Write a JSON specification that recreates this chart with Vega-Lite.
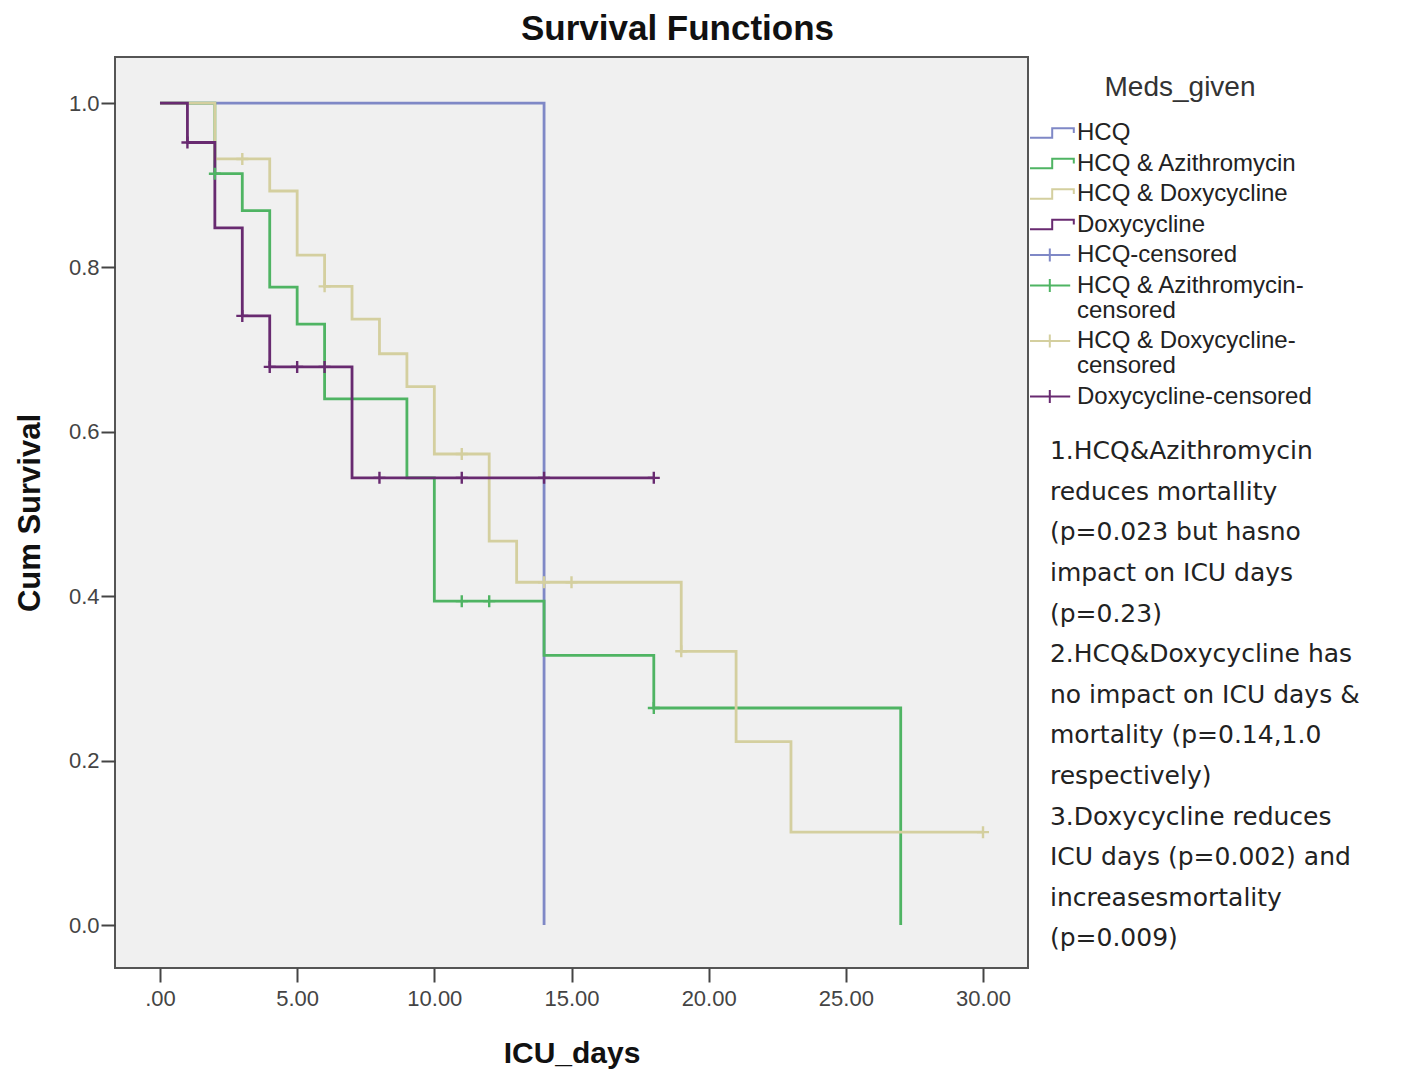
{
  "$schema": "https://vega.github.io/schema/vega-lite/v6.json",
  "width": 913,
  "height": 911,
  "autosize": {"type": "none"},
  "padding": {"left": 115, "top": 57, "right": 377, "bottom": 108},
  "background": "white",
  "config": {
    "view": {"fill": "#f0f0f0", "stroke": "#555555", "strokeWidth": 2},
    "font": "Liberation Sans"
  },
  "title": {
    "text": "Survival Functions",
    "fontSize": 35,
    "fontWeight": "bold",
    "font": "Liberation Sans",
    "color": "#111111",
    "anchor": "middle",
    "frame": "group",
    "dx": 106,
    "baseline": "alphabetic",
    "offset": -18
  },
  "datasets": {
    "km": [
      {"series": "HCQ", "kind": "step", "day": 0, "surv": 1.0},
      {"series": "HCQ", "kind": "step", "day": 14, "surv": 0.0},

      {"series": "HCQ & Azithromycin", "kind": "step", "day": 0, "surv": 1.0},
      {"series": "HCQ & Azithromycin", "kind": "step", "day": 2, "surv": 0.914},
      {"series": "HCQ & Azithromycin", "kind": "step", "day": 3, "surv": 0.869},
      {"series": "HCQ & Azithromycin", "kind": "step", "day": 4, "surv": 0.776},
      {"series": "HCQ & Azithromycin", "kind": "step", "day": 5, "surv": 0.731},
      {"series": "HCQ & Azithromycin", "kind": "step", "day": 6, "surv": 0.640},
      {"series": "HCQ & Azithromycin", "kind": "step", "day": 9, "surv": 0.544},
      {"series": "HCQ & Azithromycin", "kind": "step", "day": 10, "surv": 0.394},
      {"series": "HCQ & Azithromycin", "kind": "step", "day": 14, "surv": 0.328},
      {"series": "HCQ & Azithromycin", "kind": "step", "day": 18, "surv": 0.264},
      {"series": "HCQ & Azithromycin", "kind": "step", "day": 27, "surv": 0.0},

      {"series": "HCQ & Doxycycline", "kind": "step", "day": 0, "surv": 1.0},
      {"series": "HCQ & Doxycycline", "kind": "step", "day": 2, "surv": 0.932},
      {"series": "HCQ & Doxycycline", "kind": "step", "day": 4, "surv": 0.893},
      {"series": "HCQ & Doxycycline", "kind": "step", "day": 5, "surv": 0.815},
      {"series": "HCQ & Doxycycline", "kind": "step", "day": 6, "surv": 0.777},
      {"series": "HCQ & Doxycycline", "kind": "step", "day": 7, "surv": 0.737},
      {"series": "HCQ & Doxycycline", "kind": "step", "day": 8, "surv": 0.695},
      {"series": "HCQ & Doxycycline", "kind": "step", "day": 9, "surv": 0.655},
      {"series": "HCQ & Doxycycline", "kind": "step", "day": 10, "surv": 0.573},
      {"series": "HCQ & Doxycycline", "kind": "step", "day": 12, "surv": 0.467},
      {"series": "HCQ & Doxycycline", "kind": "step", "day": 13, "surv": 0.417},
      {"series": "HCQ & Doxycycline", "kind": "step", "day": 19, "surv": 0.333},
      {"series": "HCQ & Doxycycline", "kind": "step", "day": 21, "surv": 0.223},
      {"series": "HCQ & Doxycycline", "kind": "step", "day": 23, "surv": 0.113},
      {"series": "HCQ & Doxycycline", "kind": "step", "day": 30, "surv": 0.113},

      {"series": "Doxycycline", "kind": "step", "day": 0, "surv": 1.0},
      {"series": "Doxycycline", "kind": "step", "day": 1, "surv": 0.952},
      {"series": "Doxycycline", "kind": "step", "day": 2, "surv": 0.848},
      {"series": "Doxycycline", "kind": "step", "day": 3, "surv": 0.741},
      {"series": "Doxycycline", "kind": "step", "day": 4, "surv": 0.679},
      {"series": "Doxycycline", "kind": "step", "day": 7, "surv": 0.544},
      {"series": "Doxycycline", "kind": "step", "day": 18, "surv": 0.544},

      {"series": "HCQ & Azithromycin-censored", "kind": "censor", "day": 2, "surv": 0.914},
      {"series": "HCQ & Azithromycin-censored", "kind": "censor", "day": 11, "surv": 0.394},
      {"series": "HCQ & Azithromycin-censored", "kind": "censor", "day": 12, "surv": 0.394},
      {"series": "HCQ & Azithromycin-censored", "kind": "censor", "day": 18, "surv": 0.264},

      {"series": "HCQ & Doxycycline-censored", "kind": "censor", "day": 3, "surv": 0.932},
      {"series": "HCQ & Doxycycline-censored", "kind": "censor", "day": 6, "surv": 0.777},
      {"series": "HCQ & Doxycycline-censored", "kind": "censor", "day": 11, "surv": 0.573},
      {"series": "HCQ & Doxycycline-censored", "kind": "censor", "day": 14, "surv": 0.417},
      {"series": "HCQ & Doxycycline-censored", "kind": "censor", "day": 15, "surv": 0.417},
      {"series": "HCQ & Doxycycline-censored", "kind": "censor", "day": 19, "surv": 0.333},
      {"series": "HCQ & Doxycycline-censored", "kind": "censor", "day": 30, "surv": 0.113},

      {"series": "Doxycycline-censored", "kind": "censor", "day": 1, "surv": 0.952},
      {"series": "Doxycycline-censored", "kind": "censor", "day": 3, "surv": 0.741},
      {"series": "Doxycycline-censored", "kind": "censor", "day": 4, "surv": 0.679},
      {"series": "Doxycycline-censored", "kind": "censor", "day": 5, "surv": 0.679},
      {"series": "Doxycycline-censored", "kind": "censor", "day": 6, "surv": 0.679},
      {"series": "Doxycycline-censored", "kind": "censor", "day": 8, "surv": 0.544},
      {"series": "Doxycycline-censored", "kind": "censor", "day": 11, "surv": 0.544},
      {"series": "Doxycycline-censored", "kind": "censor", "day": 14, "surv": 0.544},
      {"series": "Doxycycline-censored", "kind": "censor", "day": 18, "surv": 0.544}
    ],
    "notes": [
      {"note": ["1.HCQ&Azithromycin", "reduces mortallity", "(p=0.023 but hasno", "impact on ICU days", "(p=0.23)", "2.HCQ&Doxycycline has", "no impact on ICU days &", "mortality (p=0.14,1.0", "respectively)", "3.Doxycycline reduces", "ICU days (p=0.002) and", "increasesmortality", "(p=0.009)"]}
    ]
  },
  "layer": [
    {
      "data": {"name": "km"},
      "encoding": {
        "x": {
          "field": "day",
          "type": "quantitative",
          "scale": {"domain": [-1.64, 31.64], "nice": false, "zero": false},
          "axis": {
            "title": "ICU_days",
            "values": [0, 5, 10, 15, 20, 25, 30],
            "labelExpr": "datum.value == 0 ? '.00' : format(datum.value, '.2f')",
            "grid": false,
            "domain": false,
            "tickSize": 14,
            "tickWidth": 2,
            "tickColor": "#444444",
            "labelFontSize": 22,
            "labelColor": "#444444",
            "labelPadding": 6,
            "labelFlush": false,
            "titleFontSize": 30,
            "titleFontWeight": "bold",
            "titleColor": "#111111",
            "titlePadding": 29
          }
        },
        "y": {
          "field": "surv",
          "type": "quantitative",
          "scale": {"domain": [-0.0523, 1.056], "nice": false, "zero": false},
          "axis": {
            "title": "Cum Survival",
            "values": [0, 0.2, 0.4, 0.6, 0.8, 1.0],
            "format": ".1f",
            "grid": false,
            "domain": false,
            "tickSize": 14,
            "tickWidth": 2,
            "tickColor": "#444444",
            "labelFontSize": 22,
            "labelColor": "#444444",
            "labelPadding": 2,
            "labelFlush": false,
            "titleFontSize": 31,
            "titleFontWeight": "bold",
            "titleColor": "#111111",
            "titlePadding": 22
          }
        },
        "color": {
          "field": "series",
          "type": "nominal",
          "scale": {
            "domain": ["HCQ", "HCQ & Azithromycin", "HCQ & Doxycycline", "Doxycycline", "HCQ-censored", "HCQ & Azithromycin-censored", "HCQ & Doxycycline-censored", "Doxycycline-censored"],
            "range": ["#7f88c6", "#4fb463", "#d4cf9f", "#682a70", "#7f88c6", "#4fb463", "#d4cf9f", "#682a70"]
          },
          "legend": {
            "orient": "none",
            "legendX": 909,
            "legendY": 17,
            "title": "Meds_given",
            "titleFontSize": 28,
            "titleFontWeight": "normal",
            "titleColor": "#333333",
            "titleFont": "Liberation Sans",
            "titleAnchor": "middle",
            "titlePadding": 19,
            "labelFontSize": 24,
            "labelFont": "Liberation Sans",
            "labelColor": "#222222",
            "labelLimit": 400,
            "labelOffset": 29,
            "rowPadding": 6.5,
            "symbolSize": 144,
            "symbolStrokeWidth": 2,
            "labelExpr": "datum.label == 'HCQ & Azithromycin-censored' ? ['HCQ & Azithromycin-', 'censored'] : datum.label == 'HCQ & Doxycycline-censored' ? ['HCQ & Doxycycline-', 'censored'] : datum.label",
            "encode": {
              "title": {
                "update": {"dx": {"value": 12}}
              },
              "symbols": {
                "update": {
                  "shape": {"signal": "indexof(datum.value, 'censored') >= 0 ? 'M-1,0H5.7M2.3,-1.1V1.1' : 'M-1,0.8H2.7V-0.8H6.3V0'"},
                  "fill": {"value": "transparent"},
                  "strokeWidth": {"value": 2},
                  "opacity": {"value": 1}
                }
              },
              "labels": {
                "update": {"lineHeight": {"value": 25}}
              }
            }
          }
        }
      },
      "layer": [
        {
          "transform": [{"filter": "datum.kind == 'step'"}],
          "mark": {"type": "line", "interpolate": "step-after", "strokeWidth": 2.8}
        },
        {
          "transform": [{"filter": "datum.kind == 'censor'"}],
          "mark": {"type": "point", "shape": "M0,-1V1M-1,0H1", "size": 144, "filled": false, "strokeWidth": 2.4, "opacity": 1}
        }
      ]
    },
    {
      "data": {"name": "notes"},
      "mark": {
        "type": "text",
        "align": "left",
        "baseline": "top",
        "font": "DejaVu Sans",
        "fontSize": 25,
        "lineHeight": 40.6,
        "fill": "#222222"
      },
      "encoding": {
        "text": {"field": "note"},
        "x": {"datum": 32.44},
        "y": {"datum": 0.591}
      }
    }
  ]
}
